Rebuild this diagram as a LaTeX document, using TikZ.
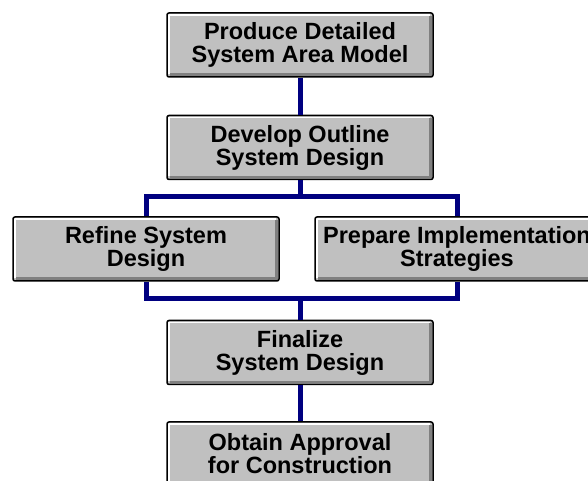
\documentclass[tikz,border=0pt]{standalone}
\usepackage{fontspec}
\setmainfont{Liberation Sans}
\usepackage{tikz}
\definecolor{boxgray}{RGB}{192,192,192}
\definecolor{shadegray}{RGB}{128,128,128}
\definecolor{linkblue}{RGB}{0,0,128}
\tikzstyle{stepbox} = [draw=black, line width=1.5pt, fill=boxgray, rounded corners=2pt,
    minimum width=266pt, minimum height=64pt, inner sep=0pt, align=center,
    font=\fontsize{23.5}{23}\selectfont\bfseries,
    path picture={
        \draw[white, line width=1.5pt, sharp corners] ([xshift=2pt,yshift=3pt]path picture bounding box.south west) |- ([xshift=-3pt,yshift=-2pt]path picture bounding box.north east);
        \draw[shadegray, line width=2.5pt, sharp corners] ([xshift=3pt,yshift=2.5pt]path picture bounding box.south west) -| ([xshift=-2.5pt,yshift=-3pt]path picture bounding box.north east);
    }]
\tikzstyle{link} = [draw=linkblue, line width=5pt, line join=miter]

\begin{document}
\begin{tikzpicture}[x=1pt,y=1pt]
                \clip (0,0) rectangle (588,481);
                \fill[white] (0,0) rectangle (588,481);
                \node[stepbox] (produce) at (300,436) {Produce Detailed\\System Area Model};
                \node[stepbox] (develop) at (300,333.5) {Develop Outline\\System Design};
                \node[stepbox] (refine) at (146,232) {Refine System\\Design};
                \node[stepbox, minimum width=284pt] (prepare) at (457,232) {Prepare Implementation\\Strategies};
                \node[stepbox] (finalize) at (300,128.5) {Finalize\\System Design};
                \node[stepbox] (obtain) at (300,27) {Obtain Approval\\for Construction};
                \draw[link] (produce) -- (develop);
                \draw[link] (develop.south) -- ++(0,-16) -| (refine.north);
                \draw[link] (develop.south) -- ++(0,-16) -| (prepare.north);
                \draw[link] (refine.south) -- ++(0,-17) -| (finalize.north);
                \draw[link] (prepare.south) -- ++(0,-17) -| (finalize.north);
                \draw[link] (finalize) -- (obtain);
            \end{tikzpicture}
\end{document}
